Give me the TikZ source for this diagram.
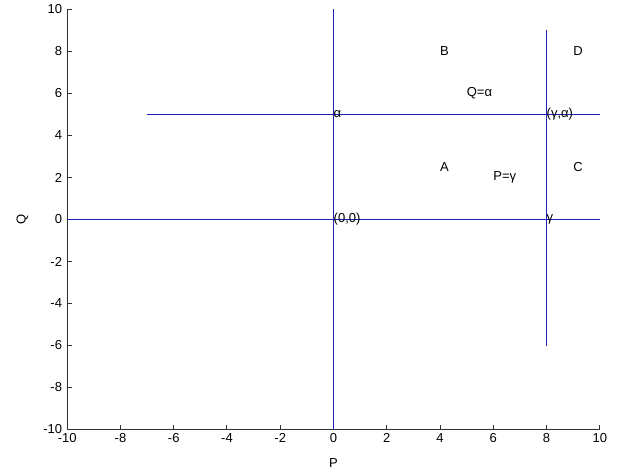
\documentclass[tikz,border=0pt]{standalone}
\usepackage{fontspec}
\setmainfont{Liberation Sans}
\usepackage{xcolor}
\usepackage{tikz}
\usetikzlibrary{positioning}

\definecolor{plotblue}{RGB}{30,30,185}

\begin{document}
\begin{tikzpicture}[
  x=26.625bp, y=21bp,
  font=\fontsize{13bp}{15bp}\selectfont,
  plotline/.style={draw=plotblue, line width=1.25bp},
  axis/.style={draw=black!80, line width=1bp},
  lbl/.style={anchor=west, inner sep=0pt},
  ticklbl/.style={inner sep=0pt}
]
\useasboundingbox[fill=white] (-12.5258,-12.1667) rectangle (10.6854,10.4524);

% Axes and ticks
\draw[axis] (-10,10) -- (-10,-10) -- (10,-10);
\foreach \t in {-10,-8,...,10} {
  \draw[axis] (\t,-10) -- ++(0,5bp);
  \draw[axis] (-10,\t) -- ++(5bp,0);
  \node[ticklbl, anchor=north, yshift=-3.5bp] (xt\t) at (\t,-10) {\t};
  \node[ticklbl, anchor=east, xshift=-5bp] (yt\t) at (-10,\t) {\t};
}

% Axis labels
\node[ticklbl] (plabel) at (0,-11.6) {P};
\node[ticklbl, rotate=90] (qlabel) at (-11.69,0) {Q};

% Lines
\begin{scope}[color=plotblue]
\draw[plotline] (0,-10) -- (0,10);
\draw[plotline] (-10,0) -- (10,0);
\draw[plotline] (-7,5) -- (10,5);
\draw[plotline] (8,-6) -- (8,9);
\end{scope}

% Point labels
\node[lbl] (alpha) at (0,5) {α};
\node[lbl] (gamalpha) at (8,5) {(γ,α)};
\node[lbl] (origin) at (0,0) {(0,0)};
\node[lbl] (gam) at (8,0) {γ};
\node[lbl] (qeq) at (5,6) {Q=α};
\node[lbl] (peq) at (6,2) {P=γ};

% Regions
\node[lbl] (ra) at (4,2.5) {A};
\node[lbl] (rb) at (4,8) {B};
\node[lbl] (rc) at (9,2.5) {C};
\node[lbl] (rd) at (9,8) {D};
\end{tikzpicture}
\end{document}
